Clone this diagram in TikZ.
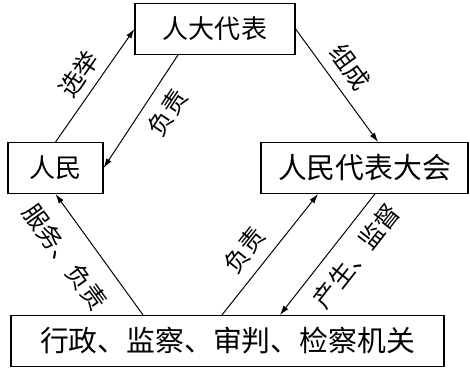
\documentclass[tikz,border=0pt]{standalone}
\usepackage{fontspec}
\newfontfamily\cjk{Noto Sans CJK SC}
\usepackage{tikz}
\usetikzlibrary{calc, positioning, arrows.meta}

\begin{document}
\begin{tikzpicture}[>={Latex[length=2.4mm, width=1.5mm]}, x=0.025cm, y=-0.025cm,
    hop/.style={draw, line width=0.8pt, inner sep=0pt, minimum height=1.27cm,
        font=\cjk\fontsize{18.5}{20}\selectfont},
    hoplon/.style={hop, font=\cjk\fontsize{20.5}{22}\selectfont},
    lien/.style={->, line width=0.7pt},
    nhan/.style={sloped, font=\cjk\fontsize{17.5}{19}\selectfont}]
    \useasboundingbox (0,0) rectangle (470,387);

    % 1. Các khung
    \node[hop, minimum width=4cm] (daibieu) at (215,29) {人大代表};
    \node[hop, minimum width=2.375cm] (nhandan) at (55.5,168) {人民};
    \node[hoplon, minimum width=5.175cm] (daihoi) at (364.5,168) {人民代表大会};
    \node[hoplon, minimum width=10.825cm] (coquan) at (227.5,341) {行政、监察、审判、检察机关};

    % 2. Các mũi tên phía trên
    \draw[lien] (nhandan.north) -- (daibieu.west)
        node[nhan, pos=0.5, above, inner sep=5.5pt] {选举};
    \draw[lien] ([xshift=-0.925cm]daibieu.south) -- (nhandan.east)
        node[nhan, pos=0.4, below, inner sep=7.8pt] {负责};
    \draw[lien] (daibieu.east) -- ([xshift=0.34cm]daihoi.north)
        node[nhan, pos=0.45, above, inner sep=7pt] {组成};

    % 3. Các mũi tên phía dưới
    \draw[lien] ([xshift=-2.11cm]coquan.north) -- (nhandan.south)
        node[nhan, pos=0.62, below, inner sep=12.5pt] {服务、负责};
    \draw[lien] ([xshift=-0.14cm]coquan.north) -- ([xshift=-1.16cm]daihoi.south)
        node[nhan, pos=0.42, above, inner sep=7.8pt] {负责};
    \draw[lien] ([xshift=0.26cm]daihoi.south) -- ([xshift=1.31cm]coquan.north)
        node[nhan, pos=0.39, below, inner sep=8.5pt] {产生、监督};
\end{tikzpicture}
\end{document}
